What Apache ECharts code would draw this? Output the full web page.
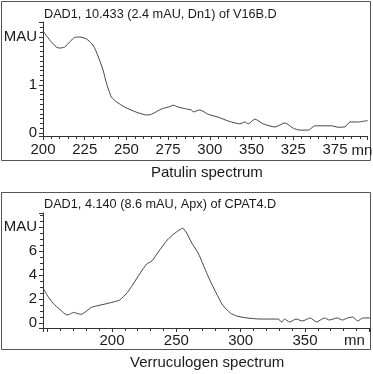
<!DOCTYPE html>
<html>

<head>
    <meta charset="utf-8">
    <script src="https://cdn.jsdelivr.net/npm/echarts@6/dist/echarts.min.js"></script>
</head>

<body style="margin:0;background:#fff;">
    <div id="main" style="width:373px;height:374px;"></div>

    <script>
        // Patulin spectrum (top)
        var patulinNm = [200, 204, 208, 210, 213, 216, 219, 222, 226, 230, 233, 236, 238, 241, 244, 249, 254, 258, 262, 265,
            271, 276, 278, 281, 286, 289, 290, 294, 299, 305, 311, 318, 321, 323, 327, 332, 339, 345, 350, 354,
            359, 363, 373, 377, 381, 384, 389, 394.6];
        var patulinMau = [2.12, 1.94, 1.79, 1.77, 1.79, 1.9, 1.99, 2.0, 1.96, 1.83, 1.6, 1.31, 1.04, 0.75, 0.65, 0.54, 0.46, 0.41, 0.375, 0.39,
            0.5, 0.55, 0.58, 0.54, 0.5, 0.48, 0.44, 0.48, 0.39, 0.33, 0.25, 0.19, 0.23, 0.19, 0.29, 0.19, 0.125, 0.21, 0.1, 0.06,
            0.06, 0.15, 0.15, 0.12, 0.13, 0.23, 0.23, 0.26];
        var patulinXLabels = ['200', '225', '250', '275', '300', '350', '325', '375'];
        var patulinYLabels = ['0', '1', 'MAU'];

        // Verruculogen spectrum (bottom)
        var verruNm = [146.5, 149.5, 154, 160, 165, 167, 170, 173, 176, 179, 184, 188, 198, 206, 212, 216, 222, 227, 231, 236,
            243, 249, 253, 255, 258, 262, 267, 271, 276, 281, 286, 292, 297, 305, 315, 329, 332, 334, 338, 343,
            348, 354, 359, 365, 369, 375, 379, 383, 387, 391, 395, 400.5];
        var verruMau = [2.9, 2.33, 1.67, 1.08, 0.67, 0.72, 0.88, 0.8, 0.72, 0.9, 1.3, 1.42, 1.67, 1.92, 2.55, 3.17, 4.17, 4.92, 5.17, 5.92,
            6.92, 7.5, 7.8, 7.9, 7.5, 6.67, 5.83, 4.83, 3.58, 2.5, 1.5, 0.83, 0.58, 0.42, 0.33, 0.33, 0.08, 0.33, 0.08, 0.33,
            0.17, 0.42, 0.08, 0.42, 0.25, 0.42, 0.25, 0.42, 0.5, 0.17, 0.42, 0.42];
        var verruXTicks = [200, 250, 300, 350];
        var verruXLabels = ['200', '250', '300', '350'];
        var verruYLabels = ['0', '2', '4', '6', 'MAU'];

        function zip(xs, ys) {
            return xs.map(function (x, i) { return [x, ys[i]]; });
        }

        var axisColor = '#333';
        var textColor = '#1a1a1a';
        var font = 'Liberation Sans, Arial, sans-serif';

        function xAxisBase(gridIndex) {
            return {
                type: 'value',
                gridIndex: gridIndex,
                axisLine: { onZero: false, lineStyle: { color: axisColor, width: 1 } },
                axisTick: { show: true, length: 4, lineStyle: { color: axisColor } },
                minorTick: { show: true, splitNumber: 5, length: 3, lineStyle: { color: axisColor } },
                splitLine: { show: false },
                nameLocation: 'end',
                nameTextStyle: { fontSize: 15, color: textColor, fontFamily: font, verticalAlign: 'top' }
            };
        }

        function yAxisBase(gridIndex) {
            return {
                type: 'value',
                gridIndex: gridIndex,
                axisLine: { show: true, lineStyle: { color: axisColor, width: 1 } },
                axisTick: { show: true, length: 4, lineStyle: { color: axisColor } },
                minorTick: { show: true, length: 3, lineStyle: { color: axisColor } },
                splitLine: { show: false }
            };
        }

        var myChart = echarts.init(document.getElementById('main'), null, { renderer: 'canvas' });

        var xTop = xAxisBase(0);
        xTop.min = 200;
        xTop.max = 394.6;
        xTop.interval = 25;
        xTop.name = 'mn';
        xTop.nameGap = -17;
        xTop.nameTextStyle.padding = [7, 0, 0, 0];
        xTop.axisLabel = {
            margin: 6, fontSize: 15, color: textColor, fontFamily: font,
            formatter: function (v) {
                var i = Math.round((v - 200) / 25);
                if (Math.abs(v - (200 + i * 25)) > 1e-6) return '';
                return patulinXLabels[i] || '';
            }
        };

        var xBot = xAxisBase(1);
        xBot.min = 146.4;
        xBot.max = 400.5;
        xBot.splitNumber = 5;
        xBot.name = 'mn';
        xBot.nameGap = -26;
        xBot.nameTextStyle.padding = [5, 0, 0, 0];
        xBot.axisLabel = {
            margin: 5, fontSize: 15, color: textColor, fontFamily: font,
            formatter: function (v) {
                var i = verruXTicks.indexOf(Math.round(v * 1000) / 1000);
                return i >= 0 ? verruXLabels[i] : '';
            }
        };

        var yTop = yAxisBase(0);
        yTop.min = -0.0625;
        yTop.max = 2.3125;
        yTop.splitNumber = 2;
        yTop.minorTick.splitNumber = 10;
        yTop.axisLabel = {
            margin: 6, fontSize: 15, color: textColor, fontFamily: font,
            formatter: function (v) {
                var r = Math.round(v);
                if (Math.abs(v - r) > 1e-6) return '';
                return patulinYLabels[r] || '';
            }
        };

        var yBot = yAxisBase(1);
        yBot.min = -0.417;
        yBot.max = 9.17;
        yBot.splitNumber = 5;
        yBot.minorTick.splitNumber = 4;
        yBot.axisLabel = {
            margin: 6, fontSize: 15, color: textColor, fontFamily: font,
            formatter: function (v) {
                var r = Math.round(v);
                if (Math.abs(v - r) > 1e-6 || r % 2 !== 0) return '';
                return verruYLabels[r / 2] || '';
            }
        };

        var option = {
            animation: false,
            backgroundColor: '#fff',
            title: [
                {
                    text: 'DAD1, 10.433 (2.4 mAU, Dn1) of V16B.D',
                    left: 44, top: 8, padding: 0,
                    textStyle: { fontSize: 12.7, fontWeight: 'normal', color: textColor, fontFamily: font }
                },
                {
                    text: 'Patulin spectrum',
                    left: 151, top: 165, padding: 0,
                    textStyle: { fontSize: 15, fontWeight: 'normal', color: textColor, fontFamily: font }
                },
                {
                    text: 'DAD1, 4.140 (8.6 mAU, Apx) of CPAT4.D',
                    left: 44, top: 198, padding: 0,
                    textStyle: { fontSize: 12.7, fontWeight: 'normal', color: textColor, fontFamily: font }
                },
                {
                    text: 'Verruculogen spectrum',
                    left: 130, top: 355, padding: 0,
                    textStyle: { fontSize: 15, fontWeight: 'normal', color: textColor, fontFamily: font }
                }
            ],
            graphic: [
                { type: 'rect', shape: { x: 1.5, y: 1.5, width: 369, height: 159 }, style: { fill: null, stroke: '#555', lineWidth: 1 }, z: 0 },
                { type: 'rect', shape: { x: 1.5, y: 192.5, width: 369, height: 157 }, style: { fill: null, stroke: '#555', lineWidth: 1 }, z: 0 }
            ],
            grid: [
                { left: 43, right: 3, top: 22, bottom: 238 },
                { left: 43, right: 3, top: 213, bottom: 46 }
            ],
            xAxis: [xTop, xBot],
            yAxis: [yTop, yBot],
            series: [
                {
                    type: 'line', xAxisIndex: 0, yAxisIndex: 0,
                    data: zip(patulinNm, patulinMau),
                    showSymbol: false, smooth: 0.2,
                    lineStyle: { color: '#444', width: 1 }
                },
                {
                    type: 'line', xAxisIndex: 1, yAxisIndex: 1,
                    data: zip(verruNm, verruMau),
                    showSymbol: false, smooth: 0.2,
                    lineStyle: { color: '#444', width: 1 }
                }
            ]
        };

        myChart.setOption(option);
    </script>
</body>

</html>
